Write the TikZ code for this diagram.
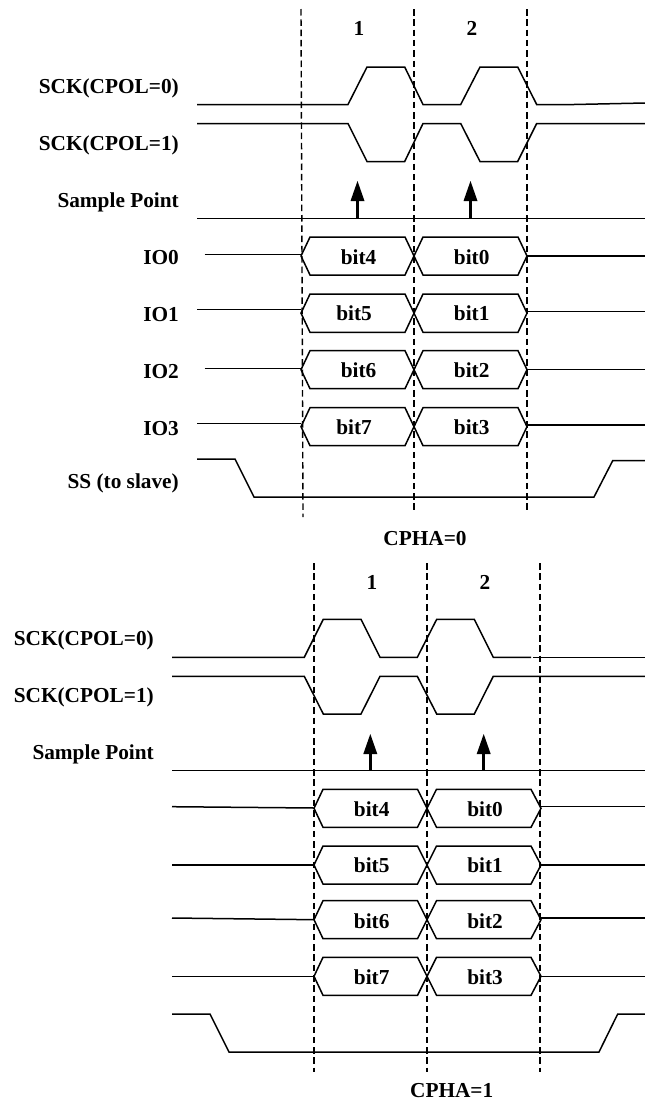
\documentclass[tikz,border=0pt]{standalone}
\usepackage{fontspec}
\setmainfont{Liberation Serif}
\usetikzlibrary{arrows.meta}
\tikzset{
  wave/.style={line width=1.5pt,line join=miter},
  guide/.style={line width=1.4pt,dash pattern=on 6.5pt off 3.8pt},
  txt/.style={font=\fontsize{21.3}{24}\selectfont\bfseries,inner sep=0pt,anchor=base},
  sig/.style={txt,anchor=base east},
  hexa/.style={wave},
  sample/.style={line width=3pt,-{Triangle[length=20pt,width=14pt,line width=0pt]}}
}
\begin{document}
\begin{tikzpicture}[x=1pt,y=-1pt]
\useasboundingbox (0,0) rectangle (645,1103);
% ---------- CPHA=0 ----------
\draw[guide] (301,9) -- (303,517);
\draw[guide] (414,9) -- (414,511);
\draw[guide] (527,9) -- (527,511);
\node[txt] (n1a) at (359,35) {1};
\node[txt] (n2a) at (472,35) {2};
\node[sig] (a0) at (179,93.3) {SCK(CPOL=0)};
\node[sig] (a1) at (179,150) {SCK(CPOL=1)};
\node[sig] (a2) at (179,207.3) {Sample Point};
\node[sig] (a3) at (179,264) {IO0};
\node[sig] (a4) at (179,321.7) {IO1};
\node[sig] (a5) at (179,378.3) {IO2};
\node[sig] (a6) at (179,435) {IO3};
\node[sig] (a7) at (179,488.3) {SS (to slave)};
\draw[wave] (197,104.5) -- (348,104.5) -- (367,67) -- (404.7,67) -- (423,104.5) -- (460.7,104.5) -- (480,67) -- (517.7,67) -- (536.7,104.5) -- (574,104.5) -- (645,103);
\draw[wave] (197,123.5) -- (348,123.5) -- (367,161.5) -- (404.7,161.5) -- (423,123.5) -- (460.7,123.5) -- (480,161.5) -- (517.7,161.5) -- (536.7,123.5) -- (645,123.5);
\draw[wave] (197,218.5) -- (645,218.5);
\coordinate (s1) at (357.5,218.5); \coordinate (t1) at (357.5,181);
\coordinate (s2) at (470.5,218.5); \coordinate (t2) at (470.5,181);
\draw[sample] (s1) -- (t1);
\draw[sample] (s2) -- (t2);
\foreach \yt/\yb/\yl/\yr/\xl/\la/\lax/\lb/\ybase in {237/275/254.5/256/204.5/bit4/358.5/bit0/264.3,294/332.3/309.3/311.3/197/bit5/354/bit1/320.7,350.7/388.7/368.3/369.7/204.5/bit6/358.5/bit2/377.7,407.7/445.7/423.3/425/197/bit7/354/bit3/434.3}{
  \pgfmathsetmacro{\ym}{(\yt+\yb)/2}
  \draw[wave] (\xl,\yl) -- (301,\yl);
  \draw[hexa] (301,\ym) -- (310,\yt) -- (405,\yt) -- (423,\yb) -- (518,\yb) -- (527,\ym) -- (518,\yt) -- (423,\yt) -- (405,\yb) -- (310,\yb) -- cycle;
  \draw[wave] (527,\yr) -- (645,\yr);
  \node[txt] at (\lax,\ybase) {\la};
  \node[txt] at (471.7,\ybase) {\lb};
}
\draw[wave] (197,459) -- (235,459) -- (254,497) -- (594,497) -- (612.7,460.7) -- (645,460.7);
\node[txt] (capa) at (425,545) {CPHA=0};
% ---------- CPHA=1 ----------
\draw[guide] (314,563) -- (314,1072);
\draw[guide] (427,563) -- (427,1072);
\draw[guide] (540,563) -- (540,1072);
\node[txt] (n1b) at (372,589) {1};
\node[txt] (n2b) at (485,589) {2};
\node[sig] (b0) at (154,645) {SCK(CPOL=0)};
\node[sig] (b1) at (154,702) {SCK(CPOL=1)};
\node[sig] (b2) at (154,759) {Sample Point};
\draw[wave] (172,657.3) -- (304.3,657.3) -- (323.3,619.3) -- (361,619.3) -- (380,657.3) -- (417.3,657.3) -- (436.7,619.3) -- (474.3,619.3) -- (493.3,657.3) -- (531,657.3);
\draw[wave] (533.3,657.3) -- (645,657.3);
\draw[wave] (172,676.3) -- (304.3,676.3) -- (323.3,714) -- (361,714) -- (380,676.3) -- (417.3,676.3) -- (436.7,714) -- (474.3,714) -- (493.3,676.3) -- (645,676.3);
\draw[wave] (172,770.7) -- (645,770.7);
\coordinate (s3) at (370.3,770.7); \coordinate (t3) at (370.3,734);
\coordinate (s4) at (483.7,770.7); \coordinate (t4) at (483.7,734);
\draw[sample] (s3) -- (t3);
\draw[sample] (s4) -- (t4);
\foreach \yt/\yb/\yla/\ylb/\yr/\la/\lb/\ybase in {789.3/827.3/806.7/808/806.7/bit4/bit0/816,846/884/865/865/865/bit5/bit1/872.7,900.7/938.7/918/919.7/918/bit6/bit2/928.3,957.3/995.3/976.3/976.3/976.3/bit7/bit3/984.3}{
  \pgfmathsetmacro{\ym}{(\yt+\yb)/2}
  \draw[wave] (172,\yla) -- (314,\ylb);
  \draw[hexa] (314,\ym) -- (323,\yt) -- (417.5,\yt) -- (436.5,\yb) -- (531,\yb) -- (541,\ym) -- (531,\yt) -- (436.5,\yt) -- (417.5,\yb) -- (323,\yb) -- cycle;
  \draw[wave] (541,\yr) -- (645,\yr);
  \node[txt] at (371.7,\ybase) {\la};
  \node[txt] at (485,\ybase) {\lb};
}
\draw[wave] (172,1014) -- (210,1014) -- (229,1052) -- (599,1052) -- (617.7,1014) -- (645,1014);
\node[txt] (capb) at (451.7,1097.7) {CPHA=1};
\end{tikzpicture}
\end{document}
